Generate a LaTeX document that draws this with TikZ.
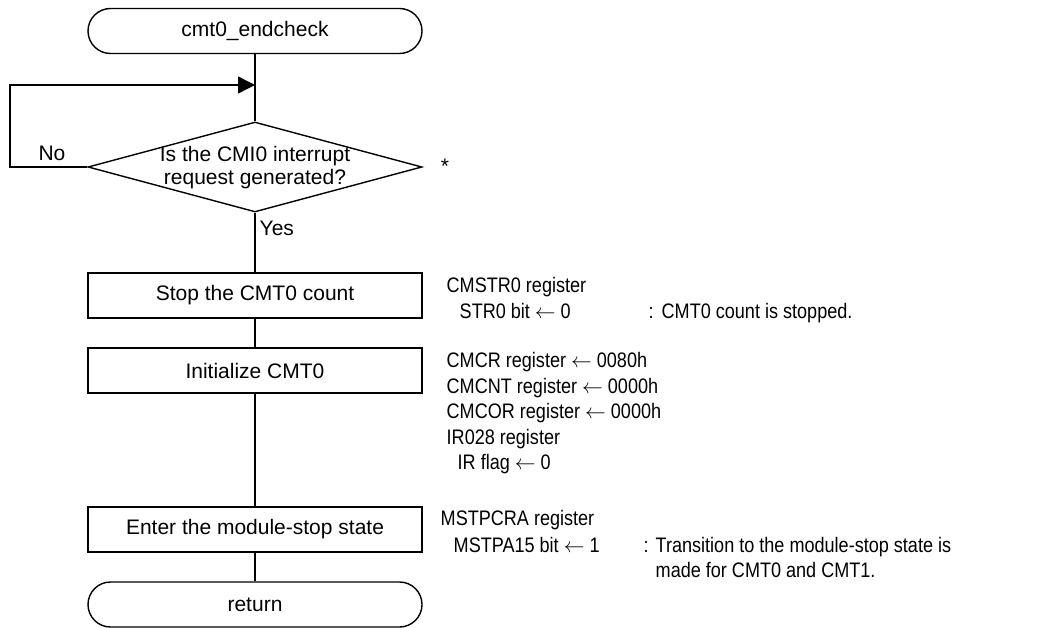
\documentclass[tikz,border=0pt]{standalone}
\usepackage{fontspec}
\setmainfont{Liberation Sans}
\newfontfamily\condfont[FakeStretch=0.86]{Liberation Sans}
\usetikzlibrary{shapes.geometric,arrows.meta}
\begin{document}
\begin{tikzpicture}[x=1pt,y=-1pt,line width=1.4pt,
  boxfont/.style={font=\fontsize{21}{25}\selectfont},
  term/.style={draw,rectangle,rounded corners=22.5pt,minimum width=334pt,minimum height=45pt,inner sep=0pt,boxfont},
  proc/.style={draw,rectangle,minimum width=334pt,minimum height=45pt,inner sep=0pt,boxfont},
  dec/.style={draw,diamond,minimum width=334pt,minimum height=90pt,inner sep=0pt},
  lbl/.style={inner sep=0pt,boxfont},
  note/.style={anchor=base west,inner sep=0pt,font=\condfont\fontsize{21}{25}\selectfont},
  flow/.style={draw},
  arr/.style={-{Triangle[length=17pt,width=17pt]}}]
\useasboundingbox (0,0) rectangle (1054,628);

% flow nodes
\node[term] (start) at (255,31) {cmt0\_endcheck};
\node[dec] (q) at (255,167) {};
\node[lbl,align=center,font=\fontsize{21}{23}\selectfont] (qtext) at (255,168) {Is the CMI0 interrupt\\request generated?};
\node[proc] (stop) at (255,295.5) {Stop the CMT0 count};
\node[proc] (init) at (255,370.5) {Initialize CMT0};
\node[proc] (enter) at (255,529.5) {Enter the module-stop state};
\node[term] (ret) at (255,604.5) {return};

% labels
\node[lbl] (no) at (52,153) {No};
\node[lbl,anchor=west] (yes) at (259,228) {Yes};
\node[lbl] (star) at (445,166) {*};

% connectors
\coordinate (merge) at (255,85);
\coordinate (loopTL) at (10,85);
\draw (start.south) -- (q.north);
\draw[arr] (q.west) -| (loopTL) -- (merge);
\draw (q.south) -- (stop.north);
\draw (stop.south) -- (init.north);
\draw (init.south) -- (enter.north);
\draw (enter.south) -- (ret.north);

% notes
\node[note] (n1) at (446,292.5) {CMSTR0 register};
\node[note] (n2) at (459,318.5) {STR0 bit $\leftarrow$ 0};
\node[note] (n2c) at (648,318.5) {:};
\node[note] (n2t) at (661,318.5) {CMT0 count is stopped.};
\node[note] (n3) at (446,367.5) {CMCR register $\leftarrow$ 0080h};
\node[note] (n4) at (446,393) {CMCNT register $\leftarrow$ 0000h};
\node[note] (n5) at (446,418.5) {CMCOR register $\leftarrow$ 0000h};
\node[note] (n6) at (446,444) {IR028 register};
\node[note] (n7) at (457,469.5) {IR flag $\leftarrow$ 0};
\node[note] (n8) at (440,525.5) {MSTPCRA register};
\node[note] (n9) at (453,552) {MSTPA15 bit $\leftarrow$ 1};
\node[note] (n9c) at (643,552) {:};
\node[note] (n9t) at (655,552) {Transition to the module-stop state is};
\node[note] (n10) at (655,577.5) {made for CMT0 and CMT1.};
\end{tikzpicture}
\end{document}
